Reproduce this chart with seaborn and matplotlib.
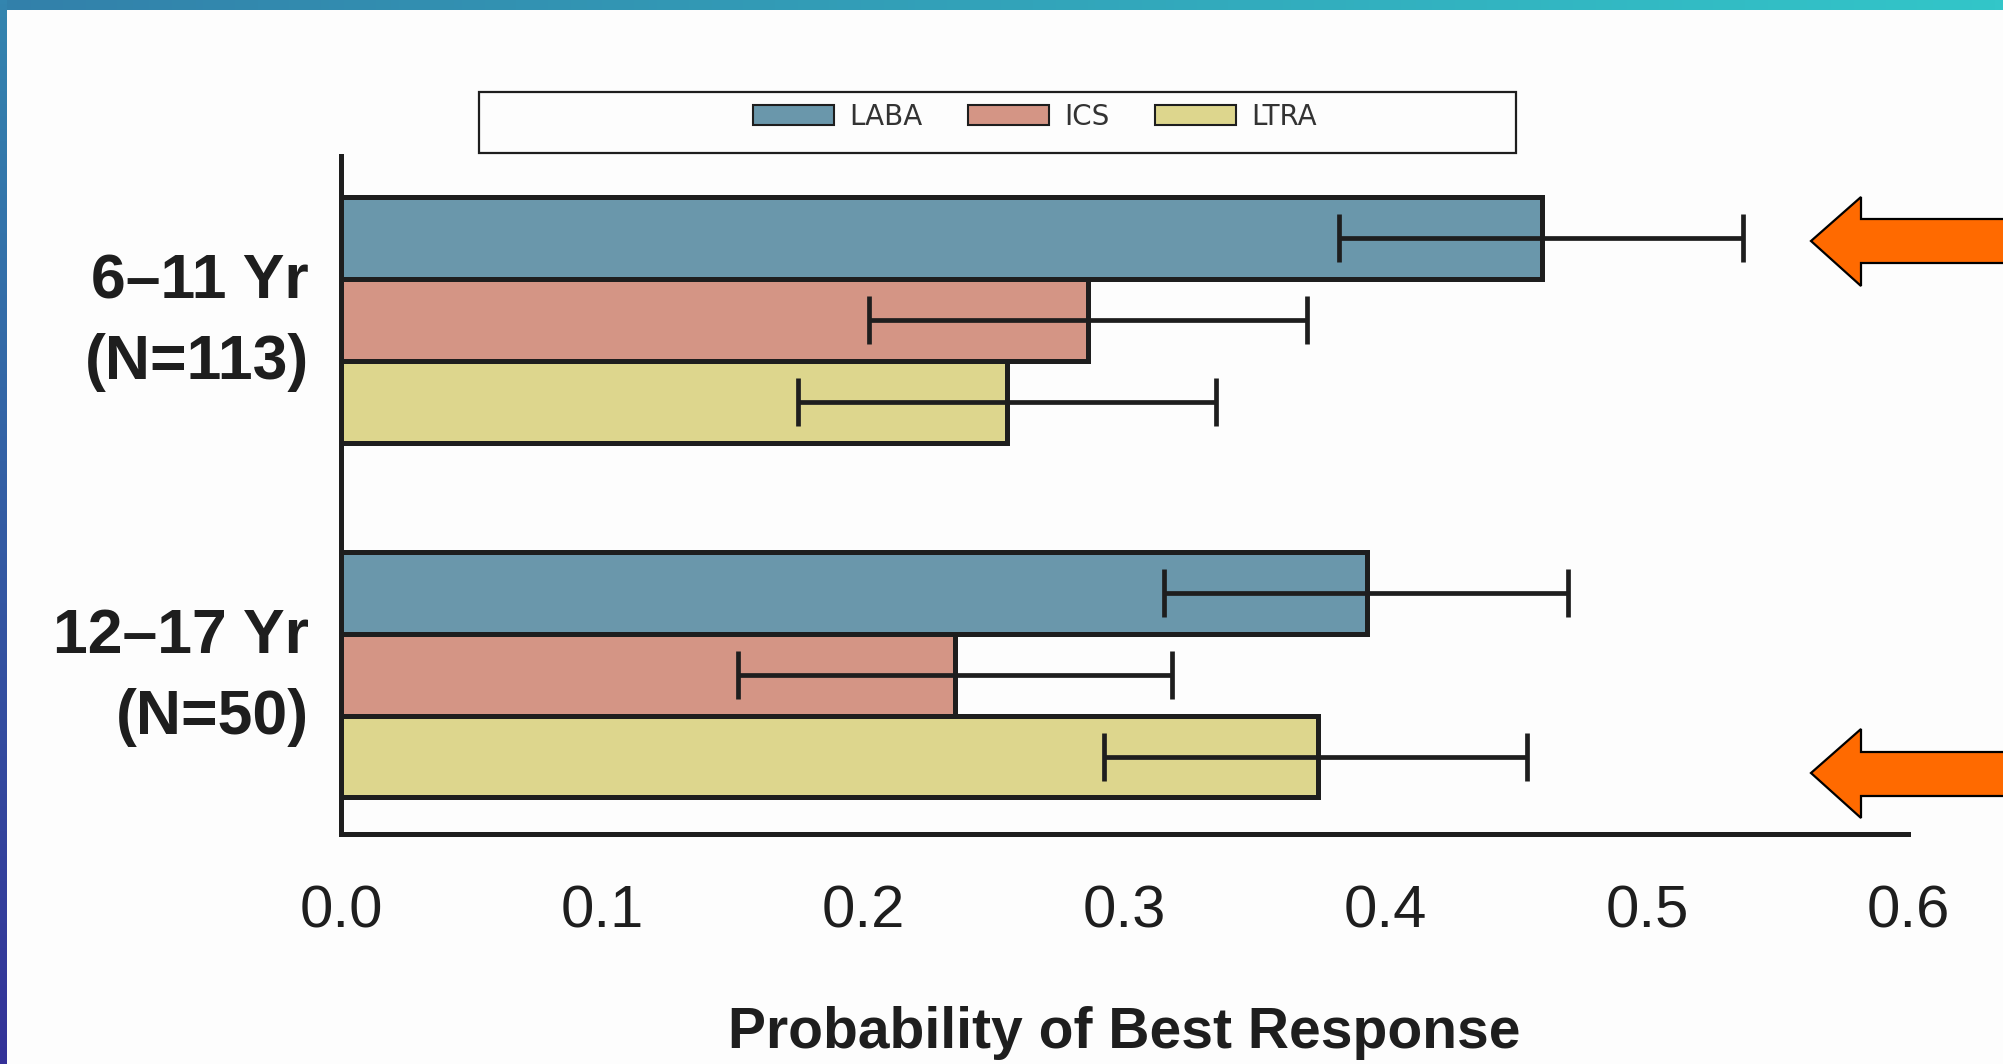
import numpy as np
import pandas as pd
import matplotlib
matplotlib.use("Agg")
import matplotlib.pyplot as plt
import matplotlib.transforms as mtransforms
import seaborn as sns
from matplotlib import font_manager
from matplotlib.patches import Patch, Polygon, Rectangle

# Data
age_groups = ["6\u201311 Yr\n(N=113)", "12\u201317 Yr\n(N=50)"]
treatments = ["LABA", "ICS", "LTRA"]
laba = [0.460, 0.393]
ics = [0.286, 0.235]
ltra = [0.255, 0.374]
laba_lo = [0.382, 0.315]
laba_hi = [0.537, 0.470]
ics_lo = [0.202, 0.152]
ics_hi = [0.370, 0.318]
ltra_lo = [0.175, 0.292]
ltra_hi = [0.335, 0.454]
x_ticks = [0.0, 0.1, 0.2, 0.3, 0.4, 0.5, 0.6]
x_ticklabels = ["0.0", "0.1", "0.2", "0.3", "0.4", "0.5", "0.6"]
colors = ["#6a97ab", "#d49585", "#ddd68d"]

values = [laba, ics, ltra]
lows = [laba_lo, ics_lo, ltra_lo]
highs = [laba_hi, ics_hi, ltra_hi]

df = pd.DataFrame({
    "age": [g for _ in treatments for g in age_groups],
    "treatment": [t for t in treatments for _ in age_groups],
    "prob": [v for vals in values for v in vals],
})

sns.set_style("white")
font_names = {f.name for f in font_manager.fontManager.ttflist}
narrow = "Liberation Sans Narrow" in font_names
tick_family = "Liberation Sans Narrow" if narrow else "Liberation Sans"
tick_size = 47 if narrow else 43
plt.rcParams["font.family"] = ["Liberation Sans", "DejaVu Sans"]

W, H = 2003, 1064
fig = plt.figure(figsize=(W / 100, H / 100), dpi=100, facecolor="#fdfdfd")
ax = fig.add_axes([341 / W, 230 / H, (1908 - 341) / W, (834 - 156) / H])
ax.set_facecolor("#fdfdfd")

ink = "#1e1e1e"
sns.barplot(data=df, x="prob", y="age", hue="treatment", orient="h",
            order=age_groups, hue_order=treatments, palette=colors,
            saturation=1, width=0.694, edgecolor=ink, linewidth=3.6,
            errorbar=None, legend=False, ax=ax)

# confidence intervals on each bar
for cont, vals, lo, hi in zip(ax.containers, values, lows, highs):
    ys = [b.get_y() + b.get_height() / 2 for b in cont]
    vals = np.array(vals)
    err = [vals - np.array(lo), np.array(hi) - vals]
    ax.errorbar(vals, ys, xerr=err, fmt="none", ecolor=ink,
                elinewidth=3.4, capsize=17, capthick=3.4, zorder=5)

ax.set_xlim(0, 0.6)
ax.set_ylim(1.45, -0.463)
ax.set_xticks(x_ticks)
ax.set_xticklabels(x_ticklabels, family=[tick_family, "DejaVu Sans"],
                   fontsize=tick_size, color=ink)
ax.set_yticks(range(len(age_groups)))
ax.set_yticklabels(age_groups, fontsize=45, fontweight="bold", color=ink,
                   linespacing=1.48)
ax.tick_params(axis="x", direction="out", length=23, width=3.4, color=ink, pad=13)
ax.tick_params(axis="y", length=0, pad=23)
shift = mtransforms.ScaledTranslation(0, 11 / 72, fig.dpi_scale_trans)
for lab in ax.get_yticklabels():
    lab.set_transform(lab.get_transform() + shift)
ax.set_ylabel("")
ax.set_xlabel("Probability of Best Response", fontsize=41, fontweight="bold",
              color=ink, labelpad=48)
sns.despine(ax=ax)
for side in ["left", "bottom"]:
    ax.spines[side].set_linewidth(3.6)
    ax.spines[side].set_color(ink)

# legend with its own frame
handles = [Patch(facecolor=c, edgecolor=ink, linewidth=1.5) for c in colors]
fig.legend(handles, treatments, loc="center", bbox_to_anchor=(1035 / W, 1 - 117 / H),
           ncol=3, frameon=False, prop={"family": "DejaVu Sans", "size": 20},
           handlelength=2.9, handleheight=0.75, handletextpad=0.55,
           columnspacing=1.65, labelcolor="#333333")
fig.patches.append(Rectangle((479 / W, 1 - 153 / H), (1516 - 479) / W, (153 - 92) / H,
                             transform=fig.transFigure, fill=False,
                             edgecolor=ink, linewidth=1.6))

# orange arrows on the right
def arrow(tip_y, head_top, head_bot, shaft_top, shaft_bot):
    pts = [(1811, tip_y), (1861, head_top), (1861, shaft_top), (2010, shaft_top),
           (2010, shaft_bot), (1861, shaft_bot), (1861, head_bot)]
    pts = [(x / W, 1 - y / H) for x, y in pts]
    fig.patches.append(Polygon(pts, closed=True, transform=fig.transFigure,
                               facecolor="#ff6a00", edgecolor="black", linewidth=1.6))

arrow(241, 197, 286, 219, 263)
arrow(773, 729, 818, 752, 796)

# gradient borders, top and left
top = fig.add_axes([0, 1 - 10 / H, 1, 10 / H])
grad = np.linspace(0, 1, 256)
c0, c1 = np.array([50, 128, 170]) / 255, np.array([51, 198, 201]) / 255
top.imshow((c0 + grad[:, None] * (c1 - c0))[None, :, :], aspect="auto")
top.axis("off")
left = fig.add_axes([0, 0, 7 / W, 1])
c0, c1 = np.array([51, 133, 175]) / 255, np.array([52, 50, 152]) / 255
left.imshow((c0 + grad[:, None] * (c1 - c0))[:, None, :], aspect="auto")
left.axis("off")

fig.savefig("out.png", dpi=100, facecolor=fig.get_facecolor())
